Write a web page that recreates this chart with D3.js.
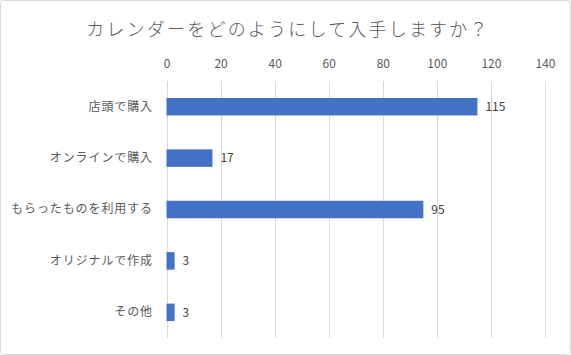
<!DOCTYPE html>
<html><head><meta charset="utf-8">
<script src="https://cdn.jsdelivr.net/npm/d3@7"></script>
<style>
html,body{margin:0;padding:0;background:#fff;}
svg{display:block;}
</style></head>
<body>
<script>
const title = "カレンダーをどのようにして入手しますか？";
const categories = ["店頭で購入","オンラインで購入","もらったものを利用する","オリジナルで作成","その他"];
const values = [115,17,95,3,3];
const tickValues = [0,20,40,60,80,100,120,140];

const W=571,H=355;
const svg=d3.select("body").append("svg").attr("width",W).attr("height",H);
svg.append("rect").attr("x",0.5).attr("y",0.5).attr("width",W-1).attr("height",H-1)
  .attr("rx",3).attr("fill","#fff").attr("stroke","#d9d9d9");

const font='"Noto Sans CJK JP","Noto Sans",sans-serif';
svg.append("text").attr("x",288).attr("y",36).attr("text-anchor","middle")
  .attr("font-family",font).attr("font-size",18).attr("font-weight",300)
  .attr("fill","#595959").attr("letter-spacing",2.2).text(title);

const x=d3.scaleLinear().domain([0,140]).range([166.5,545]);
const y=d3.scaleBand().domain(categories).range([81,338]).paddingInner(0.66).paddingOuter(0.33);

const xAxis=svg.append("g").attr("transform","translate(0,81)")
  .call(d3.axisTop(x).tickValues(tickValues).tickSize(0).tickPadding(13));
xAxis.select(".domain").remove();
xAxis.selectAll("text").attr("font-family",font).attr("font-size",12).attr("fill","#595959");

svg.append("g").selectAll("line").data(tickValues).join("line")
  .attr("x1",d=>Math.round(x(d))+0.5).attr("x2",d=>Math.round(x(d))+0.5)
  .attr("y1",81).attr("y2",338).attr("stroke","#d9d9d9").attr("stroke-width",1);

const yAxis=svg.append("g").attr("transform","translate(166,0)")
  .call(d3.axisLeft(y).tickSize(0).tickPadding(13));
yAxis.select(".domain").remove();
yAxis.selectAll("text").attr("font-family",font).attr("font-size",12).attr("fill","#595959")
  .attr("letter-spacing",0.9);

svg.append("g").selectAll("rect").data(values).join("rect")
  .attr("x",x(0)).attr("y",(d,i)=>y(categories[i]))
  .attr("width",d=>x(d)-x(0)).attr("height",y.bandwidth())
  .attr("fill","#4472c4");

svg.append("g").selectAll("text").data(values).join("text")
  .attr("x",d=>x(d)+8).attr("y",(d,i)=>y(categories[i])+y.bandwidth()/2)
  .attr("dy","0.35em").attr("font-family",font).attr("font-size",12).attr("fill","#404040")
  .text(d=>d);
</script>
</body></html>
